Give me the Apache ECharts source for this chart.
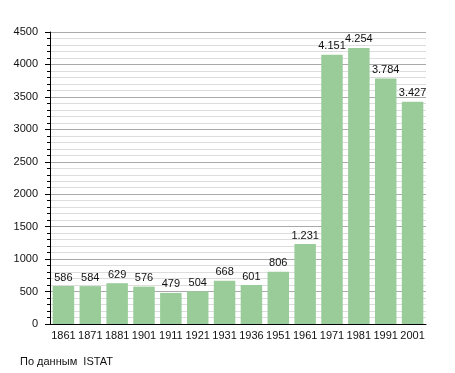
<!DOCTYPE html>
<html><head><meta charset="utf-8">
<script src="https://cdn.jsdelivr.net/npm/echarts@6/dist/echarts.min.js"></script>
<style>html,body{margin:0;padding:0;background:#fff}#c{width:455px;height:373px}</style>
</head><body><div id="c"></div>
<script>
var years = ['1861','1871','1881','1901','1911','1921','1931','1936','1951','1961','1971','1981','1991','2001'];
var population = [586,584,629,576,479,504,668,601,806,1231,4151,4254,3784,3427];
var source = 'По данным  ISTAT';

function fmt(v){ var s = String(v); return v >= 1000 ? s.slice(0, s.length-3) + '.' + s.slice(-3) : s; }

var chart = echarts.init(document.getElementById('c'), null, {renderer:'canvas'});
chart.setOption({
  animation:false,
  textStyle:{fontFamily:'Liberation Sans, Arial, sans-serif'},
  grid:{left:50, right:29, top:32, bottom:49, containLabel:false},
  graphic:[{type:'text', left:20, top:356, style:{text:source, fontSize:11, fill:'#111', fontFamily:'Liberation Sans, Arial, sans-serif'}}],
  xAxis:{type:'category', data:years, boundaryGap:true,
    axisLine:{lineStyle:{color:'#000', width:1}}, axisTick:{show:false},
    axisLabel:{color:'#111', fontSize:11, margin:6, interval:0}, splitLine:{show:false}},
  yAxis:{type:'value', min:0, max:4500, interval:500,
    axisLine:{show:true, lineStyle:{color:'#000', width:1}},
    axisTick:{show:true, inside:false, length:5, lineStyle:{color:'#000'}},
    minorTick:{show:true, splitNumber:5, length:3, lineStyle:{color:'#000'}},
    axisLabel:{color:'#111', fontSize:11, margin:12, formatter:function(v){return String(v);}},
    splitLine:{show:true, lineStyle:{color:'#aaaaaa', width:1}},
    minorSplitLine:{show:true, lineStyle:{color:'#dddddd', width:1}}},
  series:[{type:'bar', data:population, barWidth:'80%',
    itemStyle:{color:'#99cc99'},
    label:{show:true, position:'top', distance:3, color:'#111', fontSize:11, formatter:function(p){return fmt(p.value);}}}]
});
</script></body></html>
